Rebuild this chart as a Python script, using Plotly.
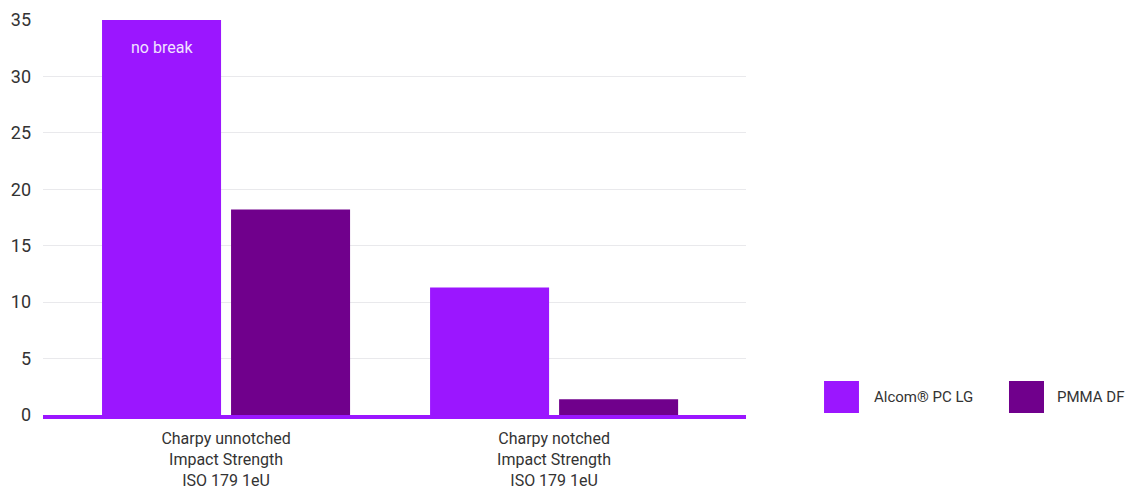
import plotly.graph_objects as go

categories = ["Charpy unnotched<br>Impact Strength<br>ISO 179 1eU",
              "Charpy notched<br>Impact Strength<br>ISO 179 1eU"]
series_names = ["Alcom® PC LG", "PMMA DF"]
alcom_values = [35, 11.3]
pmma_values = [18.2, 1.4]
bar_labels = ["no break", ""]
y_ticks = [0, 5, 10, 15, 20, 25, 30, 35]
colors = ["#9B16FF", "#70008C"]

FONT = "Roboto"
TXT = "#333333"

fig = go.Figure()
fig.add_trace(go.Bar(x=categories, y=alcom_values, name=series_names[0],
                     marker=dict(color=colors[0], line=dict(width=0)),
                     showlegend=False, hoverinfo="skip"))
fig.add_trace(go.Bar(x=categories, y=pmma_values, name=series_names[1],
                     marker=dict(color=colors[1], line=dict(width=0)),
                     showlegend=False, hoverinfo="skip"))

# "no break" label on top of the first bar
fig.add_annotation(x=categories[0], y=alcom_values[0], text=bar_labels[0],
                   xref="x", yref="y", yanchor="top", xshift=-64.5, yshift=-16,
                   showarrow=False, font=dict(family=FONT, size=16, color="#F1E3FF"))

# custom legend (large squares)
leg_sq = [(1.111, 1.1607), (1.3741, 1.4239)]
leg_tx = [1.1792, 1.4395]
for i in range(2):
    fig.add_shape(type="rect", xref="paper", yref="paper",
                  x0=leg_sq[i][0], x1=leg_sq[i][1], y0=0.0051, y1=0.0861,
                  fillcolor=colors[i], line=dict(width=0))
    fig.add_annotation(x=leg_tx[i], y=0.0456, xref="paper", yref="paper",
                       xanchor="left", yanchor="middle", text=series_names[i],
                       showarrow=False, font=dict(family=FONT, size=15, color=TXT))

fig.update_layout(
    width=1125, height=488,
    margin=dict(l=43, r=379, t=20, b=73),
    paper_bgcolor="white", plot_bgcolor="white",
    barmode="group", bargap=0.2134, bargroupgap=0.0775,
    font=dict(family=FONT, size=16, color=TXT),
    showlegend=False,
)
fig.update_xaxes(range=[-0.558, 1.585], showgrid=False, showline=True,
                 linecolor="#9B16FF", linewidth=4, ticks="", automargin=False,
                 ticklabelstandoff=6,
                 tickfont=dict(family=FONT, size=16, color=TXT))
fig.update_yaxes(range=[0, 35], tickvals=y_ticks, showgrid=True,
                 gridcolor="#E9E9EC", gridwidth=1, zeroline=False,
                 showline=False, ticks="", automargin=False,
                 ticklabelstandoff=11,
                 tickfont=dict(family=FONT, size=18, color=TXT))

fig.write_html("out.html", config={"displayModeBar": False},
               post_script="document.body.style.margin='0';")
